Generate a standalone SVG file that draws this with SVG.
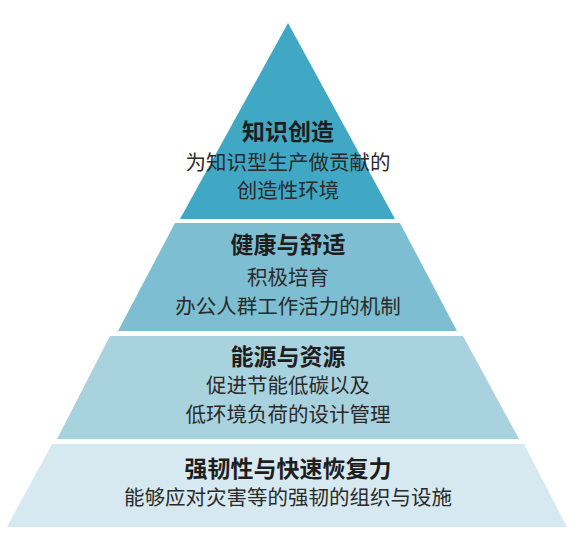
<svg xmlns="http://www.w3.org/2000/svg" width="588" height="544" viewBox="0 0 588 544">
  <style>
    .title { font-family: "Noto Sans CJK SC", "Noto Sans", sans-serif; font-size: 23px; font-weight: bold; fill: #1e1e1e; text-anchor: middle; }
    .sub { font-family: "Noto Sans CJK SC", "Noto Sans", sans-serif; font-size: 20.5px; font-weight: normal; fill: #2a2a2a; text-anchor: middle; }
  </style>
  <rect width="588" height="544" fill="#ffffff"/>
  <g id="layer1">
    <polygon points="288,23 395,219 180,219" fill="#40a8c4"/>
    <text class="title" x="288" y="140">知识创造</text>
    <text class="sub" x="288" y="170">为知识型生产做贡献的</text>
    <text class="sub" x="288" y="198">创造性环境</text>
  </g>
  <g id="layer2">
    <polygon points="175,223 400,223 457,331 118,331" fill="#7ebed2"/>
    <text class="title" x="288" y="253">健康与舒适</text>
    <text class="sub" x="288" y="285">积极培育</text>
    <text class="sub" x="288" y="314">办公人群工作活力的机制</text>
  </g>
  <g id="layer3">
    <polygon points="110,336 463,336 519,439 57,439" fill="#a9d2df"/>
    <text class="title" x="288" y="365">能源与资源</text>
    <text class="sub" x="288" y="393">促进节能低碳以及</text>
    <text class="sub" x="288" y="422">低环境负荷的设计管理</text>
  </g>
  <g id="layer4">
    <polygon points="52,444 524,444 567,527 7,527" fill="#d7e9f0"/>
    <text class="title" x="288" y="477">强韧性与快速恢复力</text>
    <text class="sub" x="288" y="505">能够应对灾害等的强韧的组织与设施</text>
  </g>
</svg>
